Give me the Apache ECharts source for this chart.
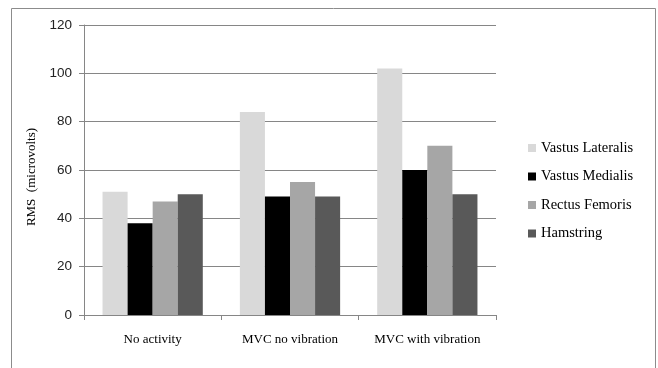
<!DOCTYPE html>
<html><head><meta charset="utf-8">
<script src="https://cdn.jsdelivr.net/npm/echarts@6/dist/echarts.min.js"></script>
<style>html,body{margin:0;padding:0;background:#fff}#c{width:658px;height:368px}</style>
</head><body><div id="c"></div>
<script>
var categories = ['No activity', 'MVC no vibration', 'MVC with vibration'];
var seriesNames = ['Vastus Lateralis', 'Vastus Medialis', 'Rectus Femoris', 'Hamstring'];
var vastusLateralis = [51, 84, 102];
var vastusMedialis = [38, 49, 60];
var rectusFemoris = [47, 55, 70];
var hamstring = [50, 49, 50];
var yTicks = [0, 20, 40, 60, 80, 100, 120];
var colors = ['#d9d9d9', '#000000', '#a6a6a6', '#595959'];
var values = [vastusLateralis, vastusMedialis, rectusFemoris, hamstring];

var serif = '"Liberation Serif", "DejaVu Serif", serif';
var chart = echarts.init(document.getElementById('c'));
chart.setOption({
  animation: false,
  backgroundColor: '#fff',
  textStyle: {fontFamily: serif},
  graphic: [{
    type: 'rect', shape: {x: 11.5, y: 8.5, width: 644, height: 380},
    style: {fill: 'none', stroke: '#8c8c8c', lineWidth: 1}, silent: true
  }],
  legend: {
    orient: 'vertical', left: 523, top: 135,
    itemWidth: 8, itemHeight: 8, itemGap: 12.5, icon: 'rect',
    textStyle: {fontFamily: serif, fontSize: 14.5, color: '#000', lineHeight: 16},
    data: seriesNames.map(function (n) { return {name: n, textStyle: {fontFamily: serif}}; })
  },
  grid: {left: 84, right: 162, top: 25, bottom: 53},
  xAxis: {
    type: 'category', data: categories,
    axisLine: {lineStyle: {color: '#868686'}},
    axisTick: {show: true, length: 5, lineStyle: {color: '#868686'}},
    axisLabel: {interval: 0, fontFamily: serif, fontSize: 13, color: '#000', margin: 18}
  },
  yAxis: {
    type: 'value', min: yTicks[0], max: yTicks[yTicks.length - 1], interval: 20,
    name: 'RMS  (microvolts)', nameLocation: 'middle', nameGap: 46,
    nameTextStyle: {fontFamily: serif, fontSize: 13, color: '#000', padding: [0, 0, 0, -14]},
    axisLine: {show: true, lineStyle: {color: '#868686'}},
    axisTick: {show: true, length: 5, lineStyle: {color: '#868686'}},
    axisLabel: {fontFamily: 'Liberation Sans', fontSize: 13.5, color: '#222', margin: 12},
    splitLine: {lineStyle: {color: '#868686', width: 1}}
  },
  series: seriesNames.map(function (n, i) {
    return {
      name: n, type: 'bar', data: values[i], barGap: '0%', barCategoryGap: '27%',
      itemStyle: {color: colors[i]}
    };
  })
});
</script></body></html>
